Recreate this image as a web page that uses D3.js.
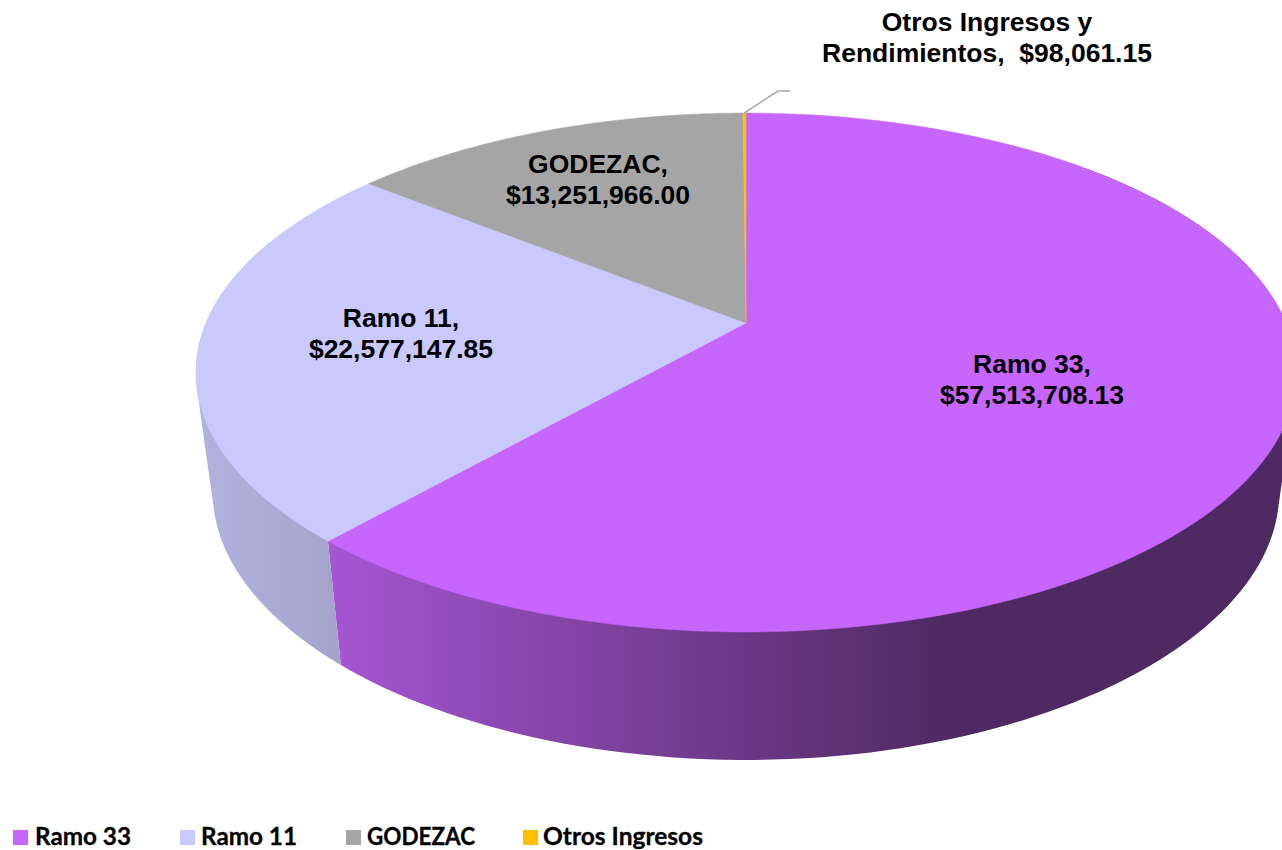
<!DOCTYPE html>
<html><head><meta charset="utf-8">
<script src="https://cdn.jsdelivr.net/npm/d3@7/dist/d3.min.js"></script>
<style>html,body{margin:0;padding:0;background:#fff;overflow:hidden}svg{display:block}</style>
</head><body><svg id="c" width="1282" height="850"></svg>
<script>
const categories = ["Ramo 33", "Ramo 11", "GODEZAC", "Otros Ingresos"];
const values = [57513708.13, 22577147.85, 13251966.00, 98061.15];
const labelLines = [["Ramo 33,", "$57,513,708.13"], ["Ramo 11,", "$22,577,147.85"], ["GODEZAC,", "$13,251,966.00"], ["Otros Ingresos y", "Rendimientos,  $98,061.15"]];
const colors = ["#C766FD", "#C9C9FD", "#A5A5A5", "#FFC000"];

const svg = d3.select("#c");
// perspective projection of the unit disc
const cx = 746, cy = 323, A = 540, C = 250, b = 0.1908;
const baseCy = 444, baseS = 0.969, baseC = 248, baseB = 0.215;
const proj = t => { const w = 1 + b * Math.cos(t); return [cx + A * Math.sin(t) / w, cy - C * Math.cos(t) / w]; };
const base = t => [cx + baseS * A * Math.sin(t) / (1 + b * Math.cos(t)), baseCy - baseC * Math.cos(t) / (1 + baseB * Math.cos(t))];
const arcs = d3.pie().sort(null)(values);
const line = d3.line();
const samples = (a, e) => d3.range(0, 121).map(i => a + (e - a) * i / 120);

const defs = svg.append("defs");
const g1 = defs.append("linearGradient").attr("id", "side0").attr("gradientUnits", "userSpaceOnUse").attr("x1", 330).attr("x2", 950).attr("y1", 0).attr("y2", 0);
g1.append("stop").attr("offset", 0).attr("stop-color", "#A655D2");
g1.append("stop").attr("offset", 1).attr("stop-color", "#4F2961");
const g2 = defs.append("linearGradient").attr("id", "side1").attr("gradientUnits", "userSpaceOnUse").attr("x1", 200).attr("x2", 340).attr("y1", 0).attr("y2", 0);
g2.append("stop").attr("offset", 0).attr("stop-color", "#B2B2E0");
g2.append("stop").attr("offset", 1).attr("stop-color", "#A3A3CA");

// side walls: convex hull of the top rim and the base rim of each visible slice
const wall = [[arcs[0].startAngle + 0.8, arcs[0].endAngle, "url(#side0)"], [arcs[1].startAngle, arcs[1].startAngle + 1.2, "url(#side1)"]];
wall.forEach(([a, e, f]) => {
  const s = samples(a, e);
  const hull = d3.polygonHull(s.map(proj).concat(s.map(base)));
  svg.append("path").attr("d", line(hull) + "Z").attr("fill", f);
});

// top faces
arcs.forEach((d, i) => {
  const pts = [[cx, cy]].concat(samples(d.startAngle, d.endAngle).map(proj));
  svg.append("path").attr("d", line(pts) + "Z").attr("fill", colors[i]).attr("stroke", colors[i]).attr("stroke-width", 0.5);
});

// leader line
const tip = proj(arcs[3].startAngle);
svg.append("path").attr("d", line([[tip[0] + 1, tip[1]], [778, 91], [790, 91]])).attr("fill", "none").attr("stroke", "#A6A6A6").attr("stroke-width", 1.5);

// data labels
const labelPos = [[1032, 372.5], [401, 326.5], [598, 172.5], [987, 31]];
const labels = svg.append("g").attr("font-family", "'Liberation Sans', Arial, sans-serif").attr("font-weight", 700).attr("font-size", 26.5).attr("text-anchor", "middle").attr("fill", "#000");
labelLines.forEach((ls, i) => ls.forEach((t, j) => {
  labels.append("text").attr("x", labelPos[i][0]).attr("y", labelPos[i][1] + j * 31).style("white-space", "pre").text(t);
}));

// legend
const swatchX = [13, 180, 346, 523];
const textX = [35, 201, 367, 543];
const textW = [96, 96, 108, 160];
const legend = svg.append("g").attr("font-family", "Lato, sans-serif").attr("font-weight", 700).attr("font-size", 24.5).attr("fill", "#000").attr("stroke", "#000").attr("stroke-width", 0.3);
categories.forEach((c, i) => {
  legend.append("rect").attr("x", swatchX[i]).attr("y", 830).attr("width", 15).attr("height", 15).attr("fill", colors[i]).attr("stroke", "none");
  legend.append("text").attr("x", textX[i]).attr("y", 845).attr("textLength", textW[i]).attr("lengthAdjust", "spacingAndGlyphs").text(c);
});
</script></body></html>
